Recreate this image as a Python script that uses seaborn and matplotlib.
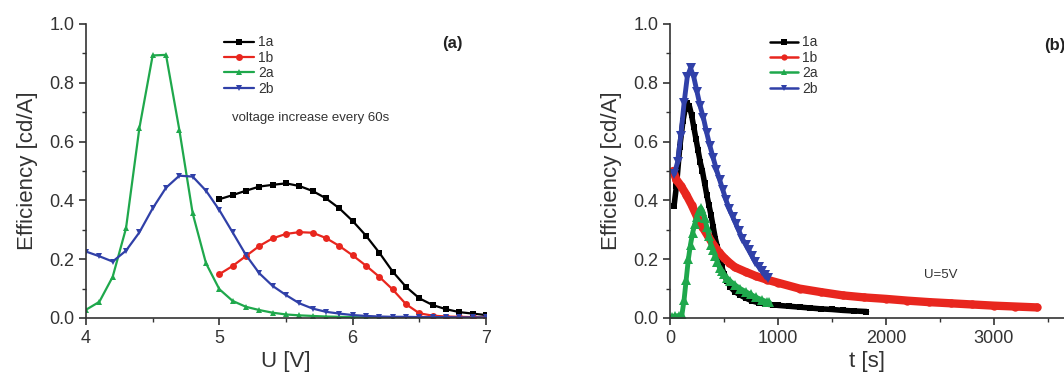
import numpy as np
import pandas as pd
import matplotlib
matplotlib.use("Agg")
import matplotlib.pyplot as plt
import seaborn as sns
from matplotlib.ticker import MultipleLocator
from matplotlib.lines import Line2D

# ---------------- data: panel (a) ----------------
u_1a = [5.0, 5.1, 5.2, 5.3, 5.4, 5.5, 5.6, 5.7, 5.8, 5.9, 6.0, 6.1, 6.2, 6.3, 6.4, 6.5, 6.6, 6.7, 6.8, 6.9, 7.0]
e_1a = [0.404, 0.418, 0.433, 0.447, 0.453, 0.458, 0.449, 0.432, 0.407, 0.373, 0.330, 0.280, 0.222, 0.158, 0.106,
        0.067, 0.044, 0.030, 0.020, 0.015, 0.010]
u_1b = [5.0, 5.1, 5.2, 5.3, 5.4, 5.5, 5.6, 5.7, 5.8, 5.9, 6.0, 6.1, 6.2, 6.3, 6.4, 6.5, 6.6, 6.7, 6.8, 6.9, 7.0]
e_1b = [0.149, 0.177, 0.211, 0.245, 0.271, 0.286, 0.292, 0.290, 0.272, 0.245, 0.213, 0.178, 0.140, 0.097, 0.047,
        0.016, 0.008, 0.005, 0.004, 0.003, 0.002]
u_2a = [4.0, 4.1, 4.2, 4.3, 4.4, 4.5, 4.6, 4.7, 4.8, 4.9, 5.0, 5.1, 5.2, 5.3, 5.4, 5.5, 5.6, 5.7, 5.8, 5.9, 6.0,
        6.1, 6.2, 6.3]
e_2a = [0.028, 0.055, 0.140, 0.305, 0.645, 0.893, 0.895, 0.640, 0.356, 0.186, 0.098, 0.058, 0.038, 0.027, 0.018,
        0.012, 0.009, 0.007, 0.005, 0.004, 0.003, 0.002, 0.002, 0.001]
u_2b = [4.0, 4.1, 4.2, 4.3, 4.4, 4.5, 4.6, 4.7, 4.8, 4.9, 5.0, 5.1, 5.2, 5.3, 5.4, 5.5, 5.6, 5.7, 5.8, 5.9, 6.0,
        6.1, 6.2, 6.3, 6.4, 6.5, 6.6, 6.7, 6.8, 6.9, 7.0]
e_2b = [0.226, 0.210, 0.192, 0.229, 0.291, 0.373, 0.443, 0.484, 0.481, 0.433, 0.367, 0.291, 0.214, 0.152, 0.109,
        0.078, 0.050, 0.032, 0.021, 0.015, 0.010, 0.007, 0.005, 0.004, 0.004, 0.003, 0.003, 0.003, 0.002, 0.002,
        0.002]

# ---------------- data: panel (b) ----------------
t_1a = [37, 60, 90, 120, 140, 160, 180, 200, 220, 240, 260, 280, 300, 320, 340, 360, 380, 400, 420, 440, 460,
        480, 500, 530, 560, 600, 650, 700, 760, 820, 880, 950, 1000, 1100, 1200, 1300, 1400, 1500, 1600, 1700,
        1820]
e_t_1a = [0.38, 0.45, 0.58, 0.67, 0.71, 0.73, 0.72, 0.69, 0.65, 0.61, 0.57, 0.53, 0.50, 0.46, 0.42, 0.385, 0.35,
          0.31, 0.27, 0.24, 0.205, 0.175, 0.15, 0.125, 0.105, 0.09, 0.078, 0.068, 0.058, 0.052, 0.048, 0.045,
          0.043, 0.040, 0.037, 0.034, 0.031, 0.029, 0.026, 0.024, 0.022]
t_1b = [30, 60, 100, 150, 200, 250, 300, 350, 400, 450, 500, 550, 600, 700, 800, 900, 1000, 1200, 1400, 1600,
        1800, 2000, 2200, 2400, 2600, 2800, 3000, 3200, 3400]
e_t_1b = [0.50, 0.47, 0.45, 0.42, 0.385, 0.345, 0.31, 0.28, 0.25, 0.225, 0.205, 0.188, 0.173, 0.157, 0.142,
          0.130, 0.120, 0.100, 0.088, 0.077, 0.070, 0.065, 0.059, 0.054, 0.050, 0.046, 0.042, 0.039, 0.036]
t_2a = [20, 50, 80, 110, 130, 150, 170, 190, 210, 230, 250, 270, 285, 300, 320, 340, 360, 380, 400, 420, 440,
        460, 480, 500, 530, 560, 600, 650, 700, 750, 800, 850, 900, 920]
e_t_2a = [0.005, 0.007, 0.008, 0.010, 0.060, 0.130, 0.200, 0.250, 0.290, 0.320, 0.345, 0.365, 0.375, 0.365,
          0.340, 0.310, 0.280, 0.250, 0.230, 0.210, 0.190, 0.170, 0.160, 0.148, 0.135, 0.125, 0.113, 0.100,
          0.090, 0.080, 0.070, 0.062, 0.055, 0.053]
t_2b = [40, 70, 100, 130, 160, 190, 220, 250, 280, 310, 340, 370, 400, 430, 460, 490, 520, 550, 580, 610, 640,
        670, 700, 730, 760, 790, 820, 850, 880, 905]
e_t_2b = [0.49, 0.53, 0.62, 0.73, 0.82, 0.85, 0.82, 0.77, 0.72, 0.68, 0.63, 0.585, 0.545, 0.505, 0.47, 0.435,
          0.40, 0.37, 0.345, 0.32, 0.295, 0.27, 0.25, 0.23, 0.21, 0.19, 0.175, 0.16, 0.145, 0.135]

labels = ["1a", "1b", "2a", "2b"]
colors = ["#000000", "#e8261e", "#1fa84c", "#3040a8"]
markers = ["s", "o", "^", "v"]

sns.set_theme(style="white")
plt.rcParams["font.family"] = ["Liberation Sans", "DejaVu Sans"]

fig = plt.figure(figsize=(10.64, 3.82), dpi=100)
ax1 = fig.add_axes([86 / 1064, 1 - 318 / 382, 400 / 1064, 294 / 382])
ax2 = fig.add_axes([670 / 1064, 1 - 318 / 382, 394 / 1064, 294 / 382])

series_a = [(u_1a, e_1a), (u_1b, e_1b), (u_2a, e_2a), (u_2b, e_2b)]
for (x, y), lab, c, m in zip(series_a, labels, colors, markers):
    df = pd.DataFrame({"x": x, "y": y})
    sns.lineplot(data=df, x="x", y="y", ax=ax1, color=c, marker=m, markersize=5, markeredgewidth=0,
                 linewidth=1.6, label=lab, sort=False)

# line width, marker size per series in panel (b) (dense overlapping markers in the original)
series_b = [(t_1a, e_t_1a, 4.0, 5), (t_1b, e_t_1b, 6.0, 6), (t_2a, e_t_2a, 3.5, 6.5), (t_2b, e_t_2b, 3.5, 7)]
for (x, y, lw, ms), lab, c, m in zip(series_b, labels, colors, markers):
    df = pd.DataFrame({"x": x, "y": y})
    sns.lineplot(data=df, x="x", y="y", ax=ax2, color=c, marker=m, markersize=ms, markeredgewidth=0,
                 linewidth=lw, label=lab, sort=False)

for ax in (ax1, ax2):
    ax.set_ylim(0, 1.0)
    ax.yaxis.set_major_locator(MultipleLocator(0.2))
    ax.yaxis.set_minor_locator(MultipleLocator(0.1))
    ax.set_yticklabels([f"{v:.1f}" for v in ax.get_yticks()])
    for s in ("top", "right"):
        ax.spines[s].set_visible(False)
    for s in ("left", "bottom"):
        ax.spines[s].set_color("#333333")
        ax.spines[s].set_linewidth(1.2)
    ax.tick_params(which="major", direction="out", length=5, width=1.2, labelsize=13,
                   left=True, bottom=True, colors="#333333", labelcolor="#333333")
    ax.tick_params(which="minor", direction="out", length=3, width=1.0, left=True, bottom=True,
                   colors="#333333")
    ax.set_ylabel("Efficiency [cd/A]", fontsize=16, color="#333333", labelpad=8)
    ax.set_facecolor("white")

ax1.set_xlim(4, 7)
ax1.xaxis.set_major_locator(MultipleLocator(1))
ax1.xaxis.set_minor_locator(MultipleLocator(0.5))
ax1.set_xlabel("U [V]", fontsize=16, color="#333333", labelpad=3)

ax2.set_xlim(0, 3650)
ax2.xaxis.set_major_locator(MultipleLocator(1000))
ax2.xaxis.set_minor_locator(MultipleLocator(500))
ax2.set_xlabel("t [s]", fontsize=16, color="#333333", labelpad=3)

leg1 = ax1.legend(loc="upper left", bbox_to_anchor=(0.33, 0.98), frameon=False, fontsize=10,
                  handlelength=2.2, handletextpad=0.3, labelspacing=0.1, borderaxespad=0)
handles_b = [Line2D([], [], color=c, marker=m, markersize=4.5, markeredgewidth=0, linewidth=1.8)
             for c, m in zip(colors, markers)]
leg2 = ax2.legend(handles_b, labels, loc="upper left", bbox_to_anchor=(0.24, 0.98), frameon=False,
                  fontsize=10, handlelength=2.0, handletextpad=0.3, labelspacing=0.1, borderaxespad=0)
for leg in (leg1, leg2):
    for t in leg.get_texts():
        t.set_color("#333333")

ax1.text(0.365, 0.67, "voltage increase every 60s", transform=ax1.transAxes, fontsize=9.5,
         color="#333333")
ax1.text(0.89, 0.92, "(a)", transform=ax1.transAxes, fontsize=12, fontweight="bold", color="#222222")
ax2.text(0.95, 0.91, "(b)", transform=ax2.transAxes, fontsize=12, fontweight="bold", color="#222222")
ax2.text(0.645, 0.135, "U=5V", transform=ax2.transAxes, fontsize=9.5, color="#333333")

fig.savefig("out.png", dpi=100, facecolor="white")
